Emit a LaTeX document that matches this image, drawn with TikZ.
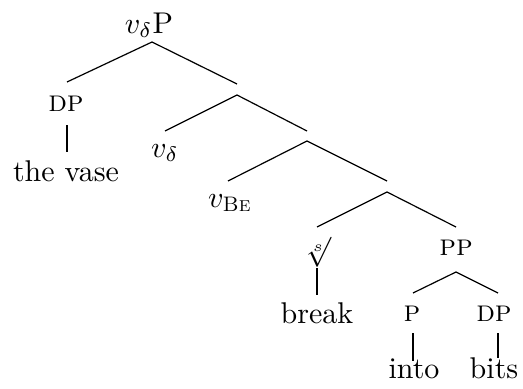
\documentclass[tikz,border=0pt]{standalone}
\usepackage{amsmath}
\begin{document}
\begin{tikzpicture}[x=0.33333pt,y=-0.33333pt,
  lbl/.style={anchor=base,inner sep=0pt},
  edge/.style={line width=0.4pt}]
\useasboundingbox (0,0) rectangle (523,389);
% labels
\node[lbl] (root) at (149,33) {$v_\delta$P};
\node[lbl] (dp) at (66,111) {\textsc{dp}};
\node[lbl] (vase) at (66,181) {the vase};
\node[lbl] (vd) at (165,157) {$v_\delta$};
\node[lbl] (vbe) at (230,207) {$v_{\text{\textsc{Be}}}$};
\node[anchor=center,inner sep=0pt] (rt) at (318,252) {$\sqrt[s]{}$};
\node[lbl] (brk) at (317,323) {break};
\node[lbl] (pp) at (456,255) {\textsc{pp}};
\node[lbl] (p) at (412,321.7) {\textsc{p}};
\node[lbl] (dp2) at (494,321.7) {\textsc{dp}};
\node[lbl] (into) at (414,378) {into};
\node[lbl] (bits) at (494,378) {bits};
% branch points
\coordinate (r-b) at (152,42);
\coordinate (dp-t) at (67,82);
\coordinate (x1-t) at (237,84);
\coordinate (x1-b) at (237,95);
\coordinate (vd-t) at (165,131);
\coordinate (x2-t) at (307,131);
\coordinate (x2-b) at (307,141);
\coordinate (vb-t) at (228,181);
\coordinate (x3-t) at (387,181);
\coordinate (x3-b) at (387,192);
\coordinate (rt-t) at (317,227);
\coordinate (pp-t) at (456,227);
\coordinate (pp-b) at (456,272);
\coordinate (p-t) at (413,293);
\coordinate (dp2-t) at (498,293);
\coordinate (dp-b) at (67,125);
\coordinate (vase-t) at (67,152);
\coordinate (rt-b) at (317,268);
\coordinate (brk-t) at (317,295);
\coordinate (p-b) at (413,333);
\coordinate (into-t) at (413,361);
\coordinate (dp2-b) at (498,333);
\coordinate (bits-t) at (498,358);
% edges
\draw[edge] (dp-t) -- (r-b) -- (x1-t);
\draw[edge] (vd-t) -- (x1-b) -- (x2-t);
\draw[edge] (vb-t) -- (x2-b) -- (x3-t);
\draw[edge] (rt-t) -- (x3-b) -- (pp-t);
\draw[edge] (p-t) -- (pp-b) -- (dp2-t);
\draw[edge] (dp-b) -- (vase-t);
\draw[edge] (rt-b) -- (brk-t);
\draw[edge] (p-b) -- (into-t);
\draw[edge] (dp2-b) -- (bits-t);
\end{tikzpicture}
\end{document}
